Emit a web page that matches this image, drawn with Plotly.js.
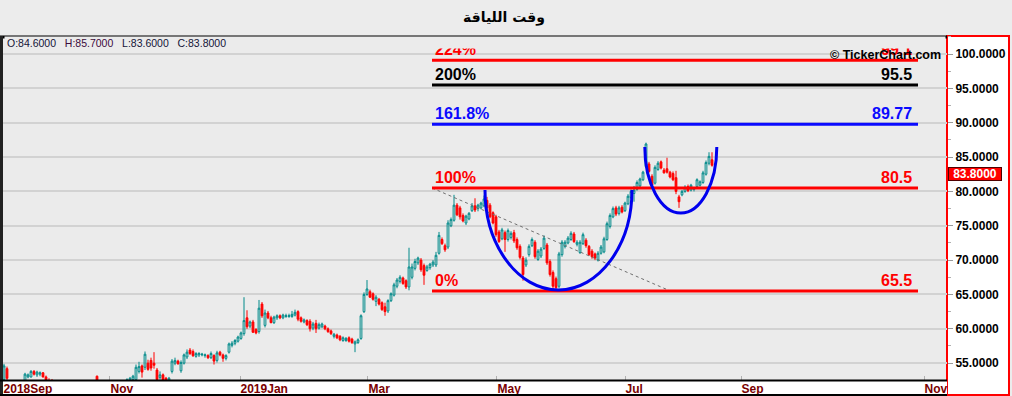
<!DOCTYPE html>
<html><head><meta charset="utf-8">
<script src="https://cdn.plot.ly/plotly-3.0.1.min.js"></script>
<style>html,body{margin:0;padding:0;background:#ececec;} #chart{width:1012px;height:396px;}</style>
</head><body><div id="chart"></div>
<script>
// ---- data (daily bars) ----
const openP = [52.6,54.2,52.3,51.8,52.0,51.7,52.1,52.3,53.0,53.0,53.8,53.3,53.4,53.6,53.0,52.5,52.3,52.0,51.7,51.4,
51.8,51.5,51.0,51.2,50.9,51.1,51.4,51.7,51.5,51.8,52.1,53.1,52.3,51.7,51.2,51.4,51.2,50.8,51.1,51.5,
51.8,52.1,52.5,52.6,52.6,53.8,54.6,54.4,55.0,55.4,55.0,54.0,52.9,53.3,52.8,52.5,53.8,55.0,55.3,53.9,
55.0,55.9,56.9,56.7,56.0,56.2,56.2,56.1,56.1,55.8,56.1,55.4,56.6,56.2,55.7,56.6,57.6,57.9,58.2,58.6,
59.3,61.6,60.4,61.0,59.9,59.6,63.6,60.5,62.3,61.6,60.9,61.6,61.9,61.6,61.8,61.8,61.8,62.0,62.5,61.6,
61.0,61.2,61.1,60.1,60.8,60.1,60.3,60.4,60.0,59.7,58.9,59.1,58.9,58.3,58.3,58.7,58.5,57.8,58.0,58.6,
62.5,65.0,65.4,65.1,64.0,64.3,63.8,63.2,62.6,64.1,64.9,66.2,66.9,67.4,67.0,66.1,67.5,68.8,69.6,70.0,
69.2,68.5,68.9,69.3,69.3,71.0,73.0,72.1,71.9,75.0,75.8,78.0,77.6,76.5,75.4,76.0,77.2,77.9,77.5,77.6,
77.9,78.7,78.0,76.9,76.3,74.1,73.1,74.0,73.0,73.3,74.0,73.0,72.0,70.3,69.3,70.8,72.1,72.6,70.1,70.6,
71.7,72.2,69.8,68.2,67.3,66.2,70.8,72.0,72.5,73.0,73.8,72.3,71.1,72.4,72.9,72.0,71.3,70.9,70.0,71.0,
71.2,73.0,74.9,76.3,77.6,76.8,77.7,77.2,78.2,79.1,79.7,80.3,80.8,81.7,83.6,84.0,82.2,81.2,83.2,84.3,
83.1,83.3,82.8,82.6,82.0,79.2,79.5,80.0,80.7,80.2,80.3,80.7,80.9,81.3,82.5,84.1,84.6];
const highP = [54.9,54.5,52.4,52.2,52.3,52.2,52.4,53.6,53.5,54.0,54.0,53.9,53.8,53.7,53.2,52.8,52.7,52.3,52.0,51.9,
52.1,51.7,51.4,51.5,51.3,51.6,51.9,52.1,52.0,52.3,52.4,53.2,52.4,52.0,51.6,51.8,51.5,51.3,51.7,52.0,
52.3,52.8,53.0,53.3,54.8,55.2,54.8,56.7,55.5,55.8,56.6,54.3,53.8,53.5,53.0,53.0,55.6,55.8,55.5,55.4,
56.4,57.0,57.2,57.0,56.6,56.6,56.5,56.4,56.3,56.7,56.3,56.8,56.8,56.4,56.3,58.0,58.2,58.5,59.0,59.6,
64.6,62.7,61.2,61.3,60.1,64.2,63.9,62.8,62.6,61.9,61.9,62.1,62.1,62.2,62.2,62.2,62.6,62.8,62.7,61.8,
61.5,61.4,61.4,61.0,61.3,60.9,60.9,60.6,60.2,59.9,59.4,59.3,59.1,58.9,58.8,58.9,58.7,58.3,58.6,62.1,
65.3,67.1,65.7,65.3,64.9,64.5,64.0,63.8,64.3,65.3,66.7,67.4,67.8,67.6,67.2,71.8,69.5,70.2,70.5,70.3,
69.5,69.3,69.6,70.0,71.2,74.1,73.3,72.4,75.8,76.2,79.5,78.3,77.9,76.8,76.6,77.0,78.3,79.0,78.2,78.5,
79.4,79.2,78.3,77.1,76.6,74.4,74.7,74.3,74.6,74.2,74.4,73.3,72.3,70.6,70.4,72.3,73.3,72.9,71.6,71.9,
73.6,72.5,70.1,68.5,67.6,71.2,72.9,72.9,73.5,74.2,74.1,72.9,72.9,74.0,73.2,72.2,71.6,71.1,71.3,72.2,
73.4,75.6,76.8,77.8,77.9,77.9,78.0,78.5,79.6,80.3,80.8,81.6,82.0,83.0,87.1,84.3,82.5,83.8,84.4,84.5,
83.4,84.9,83.0,82.9,83.0,79.5,80.2,80.9,81.0,81.1,80.6,81.9,81.6,83.0,84.5,85.7,85.7];
const lowP = [52.3,52.4,51.6,51.5,51.6,51.4,51.8,52.1,52.8,52.9,53.2,53.0,53.1,52.9,52.2,51.9,51.8,51.5,51.2,51.0,
51.3,50.8,50.6,50.7,50.5,50.9,51.1,51.3,51.2,51.5,51.7,52.1,51.5,51.0,50.8,51.0,50.6,50.5,50.9,51.2,
51.6,51.9,52.3,52.4,52.4,53.5,52.9,54.0,53.9,53.9,54.2,52.4,52.6,52.2,52.1,52.2,53.5,54.7,54.8,53.6,
54.8,55.6,56.2,55.9,55.8,55.9,56.0,55.8,55.6,55.6,54.8,55.1,56.0,55.2,55.4,56.4,57.3,57.6,58.0,58.4,
59.0,60.0,60.1,59.4,59.2,59.3,61.6,60.2,61.4,60.8,60.7,61.3,61.4,61.4,61.6,61.6,61.6,61.8,61.1,60.9,
60.8,60.4,59.6,59.8,59.4,59.9,60.1,59.8,59.4,59.1,58.6,58.5,58.2,58.1,58.1,58.0,57.8,56.6,57.8,58.4,
62.3,64.8,64.5,64.1,63.3,63.4,62.6,61.9,62.3,63.9,64.7,65.9,66.6,66.4,65.8,65.6,67.2,68.5,69.3,68.3,
66.4,68.3,68.6,69.0,69.0,70.8,72.2,71.2,71.6,74.8,75.6,76.4,75.9,75.5,75.1,75.8,77.0,77.0,77.1,77.4,
77.7,77.2,76.1,75.2,73.4,72.5,72.9,71.2,72.7,73.0,72.5,71.5,70.1,67.0,69.0,70.5,71.9,70.2,69.9,70.3,
71.5,69.3,67.6,65.8,65.6,65.9,70.5,71.7,72.3,72.8,72.5,72.0,70.9,72.2,71.8,70.6,70.2,70.0,69.8,70.8,
71.0,72.8,74.6,76.1,76.4,76.5,76.8,77.0,78.0,78.9,78.5,80.1,80.6,81.5,83.4,82.7,80.7,81.0,83.0,83.2,
82.6,82.6,81.9,81.5,79.6,77.6,79.3,79.8,79.9,80.0,80.0,80.5,80.7,81.1,82.3,83.8,83.6];
const closeP = [54.6,52.8,51.8,52.0,51.7,52.1,52.3,53.4,53.3,53.8,53.4,53.7,53.6,53.0,52.5,52.2,52.0,51.7,51.4,51.8,
51.5,51.0,51.2,50.9,51.1,51.4,51.7,51.5,51.8,52.1,51.9,52.3,51.7,51.2,51.4,51.2,50.8,51.1,51.5,51.8,
52.1,52.6,52.8,53.1,54.4,54.5,53.7,56.3,54.1,54.3,54.7,52.6,53.3,52.5,52.3,52.8,55.3,55.4,54.9,55.1,
56.2,56.6,56.4,56.1,56.4,56.4,56.3,56.2,55.8,56.4,55.3,56.5,56.2,55.7,56.1,57.8,57.9,58.3,58.8,59.4,
61.2,60.3,61.0,59.5,59.4,63.0,61.9,62.3,61.6,60.9,61.7,61.9,61.6,62.0,61.9,61.9,62.1,62.4,61.4,61.1,
61.3,60.6,60.0,60.7,60.0,60.6,60.7,60.0,59.6,59.3,59.2,58.7,58.4,58.7,58.6,58.2,58.0,58.1,58.4,61.9,
65.0,65.8,64.6,64.3,64.6,63.6,62.8,62.5,64.1,65.1,66.4,67.1,67.5,66.6,66.1,69.0,69.0,69.8,70.3,68.6,
67.8,69.0,69.4,69.7,70.7,73.6,72.4,71.5,75.4,75.9,78.0,76.6,76.3,75.7,76.4,76.8,77.9,77.3,78.0,78.3,
78.9,77.6,76.3,75.4,73.7,72.7,74.4,73.0,74.3,73.9,72.8,71.8,70.4,67.9,70.0,72.0,73.0,70.5,71.3,71.6,
73.2,69.6,67.9,66.2,66.0,70.9,72.6,72.6,73.2,73.9,72.7,72.6,72.6,73.7,72.1,70.8,70.5,70.3,71.0,71.9,
73.1,75.3,76.5,77.5,76.7,77.6,77.0,78.3,79.3,80.0,80.2,81.3,81.8,82.8,86.9,82.9,80.9,83.5,84.1,83.4,
82.7,82.8,82.1,81.7,80.0,78.5,80.0,80.6,80.1,80.9,80.5,81.7,81.4,82.7,84.2,85.1,83.8];

const tickPos  = [-0.3, 35.33, 78.67, 121.33, 164.33, 207, 245.67, 306.67];
const tickText = ['2018Sep','Nov','2019Jan','Mar','May','Jul','Sep','Nov'];

const fibLevels = [65.5, 80.5, 89.77, 95.5, 99.1];
const fibPct    = ['0%','100%','161.8%','200%','224%'];
const fibValTxt = ['65.5','80.5','89.77','95.5','99.1'];
const fibColors = ['#ff0000','#ff0000','#0a0aff','#000000','#ff0000'];

const lastBar = {o:'84.6000', h:'85.7000', l:'83.6000', c:'83.8000', price:83.8};
const titleText = 'وقت اللياقة';

// ---- geometry helpers (layout only) ----
const PLOT_L = 3, PLOT_R = 947, PLOT_T = 36, PLOT_B = 380, W = 1012, H = 396;
const pw = PLOT_R - PLOT_L, ph = PLOT_B - PLOT_T;
const px2paperX = p => (p - PLOT_L) / pw;
const px2paperY = p => (PLOT_B - p) / ph;

const barIndex = closeP.map((_, i) => i);

const trace = {
  type: 'candlestick',
  x: barIndex, open: openP, high: highP, low: lowP, close: closeP,
  increasing: {line: {color: '#008a8a', width: 1}, fillcolor: 'rgba(0,0,0,0)'},
  decreasing: {line: {color: '#ff0000', width: 1}, fillcolor: '#ff0000'},
  whiskerwidth: 0, hoverinfo: 'skip', showlegend: false
};

const fibX0 = 142.67, fibX1 = 304.67;
const shapes = [
  {type:'rect', xref:'paper', yref:'paper', x0:1, x1:px2paperX(1009), y0:px2paperY(395), y1:1,
   fillcolor:'#ffffff', line:{color:'#ff0000', width:2}, layer:'below'},
  {type:'rect', xref:'paper', yref:'paper', x0:px2paperX(0), x1:1, y0:px2paperY(396), y1:0,
   fillcolor:'#ffffff', line:{width:0}, layer:'below'},
  {type:'line', xref:'paper', yref:'paper', x0:px2paperX(0), x1:1, y0:px2paperY(37), y1:px2paperY(37), line:{color:'#000', width:3}, layer:'above'},
  {type:'line', xref:'paper', yref:'paper', x0:px2paperX(1.5), x1:px2paperX(1.5), y0:px2paperY(396), y1:px2paperY(36), line:{color:'#222', width:3}, layer:'above'},
  {type:'line', xref:'paper', yref:'paper', x0:px2paperX(0), x1:1, y0:px2paperY(380.5), y1:px2paperY(380.5), line:{color:'#000', width:2}, layer:'above'},
  {type:'line', xref:'paper', yref:'paper', x0:px2paperX(0), x1:1, y0:px2paperY(395), y1:px2paperY(395), line:{color:'#000', width:2}, layer:'above'},
  {type:'line', xref:'x', yref:'y', x0:142.67, y0:80.5, x1:222.67, y1:65.4, line:{color:'#707070', width:1, dash:'dot'}, layer:'above'}
];
fibLevels.forEach((v, k) => shapes.push({type:'line', xref:'x', yref:'y', x0:fibX0, x1:fibX1, y0:v, y1:v,
  line:{color:fibColors[k], width:3}, layer:'above'}));

function halfEllipse(cx, cy, rx, ry) {
  const k = 0.5523;
  return `M ${cx-rx},${cy} C ${cx-rx},${cy-k*ry} ${cx-k*rx},${cy-ry} ${cx},${cy-ry} C ${cx+k*rx},${cy-ry} ${cx+rx},${cy-k*ry} ${cx+rx},${cy}`;
}
shapes.push({type:'path', xref:'x', yref:'y', path: halfEllipse(184.83, 80.2, 24.5, 14.55), line:{color:'#0000ee', width:3}, layer:'above'});
shapes.push({type:'path', xref:'x', yref:'y', path: halfEllipse(225.6, 86.46, 12.0, 9.6), line:{color:'#0000ee', width:3}, layer:'above'});

const annotations = [];
fibLevels.forEach((v, k) => {
  annotations.push({xref:'x', yref:'y', x:143, y:v, xanchor:'left', yanchor:'bottom', yshift:0, showarrow:false,
    text:'<b>'+fibPct[k]+'</b>', font:{family:'Liberation Sans, Arial', size:16, color:fibColors[k]}});
  annotations.push({xref:'x', yref:'y', x:303.4, y:v, xanchor:'right', yanchor:'bottom', yshift:0, showarrow:false,
    text:'<b>'+fibValTxt[k]+'</b>', font:{family:'Liberation Sans, Arial', size:16, color:fibColors[k]}});
});
annotations.push({xref:'paper', yref:'paper', x:px2paperX(4), y:1, xanchor:'left', yanchor:'top', showarrow:false,
  text:' ', width:940, height:11, borderpad:0, bgcolor:'#ebebeb'});
const sp = '\u00a0\u00a0\u00a0';
annotations.push({xref:'paper', yref:'paper', x:px2paperX(5), y:px2paperY(43), xanchor:'left', yanchor:'middle', showarrow:false,
  text:'<span style="color:#141438">O:'+lastBar.o+'</span>'+sp+'<span style="color:#3c0a3c">H:'+lastBar.h+'</span>'+sp+
       '<span style="color:#141438">L:'+lastBar.l+'</span>'+sp+'<span style="color:#141438">C:'+lastBar.c+'</span>',
  font:{family:'Liberation Sans, Arial', size:10.5, color:'#141438'}});
annotations.push({xref:'paper', yref:'paper', x:px2paperX(943), y:px2paperY(55), xanchor:'right', yanchor:'middle', showarrow:false,
  text:'<b>© TickerChart.com</b>', font:{family:'Liberation Sans, Arial', size:12.5, color:'#000'}});
annotations.push({xref:'paper', yref:'y', x:px2paperX(948), y:lastBar.price, xanchor:'left', yanchor:'top', yshift:-1.5, showarrow:false,
  text:'<b>'+lastBar.c+'</b>', width:50, height:10, borderpad:1, borderwidth:1, bordercolor:'#500000', bgcolor:'#ff0000',
  font:{family:'Liberation Sans, Arial', size:12, color:'#ffffff'}});

const layout = {
  width: W, height: H,
  margin: {l: PLOT_L, r: W - PLOT_R, t: PLOT_T, b: H - PLOT_B, pad: 0},
  paper_bgcolor: '#ececec', plot_bgcolor: '#ebebeb',
  boxgap: 0.15,
  title: {text: '<b>'+titleText+'</b>', x: 0.498, xref: 'container', y: 1 - 17/396, yref: 'container', yanchor: 'middle', xanchor: 'center',
          font: {family: 'DejaVu Sans', size: 14, color: '#000'}},
  showlegend: false,
  xaxis: {type: 'linear', range: [-0.333, 314.333], fixedrange: true, rangeslider: {visible: false},
          showgrid: false, zeroline: false, showline: false,
          tickmode: 'array', tickvals: tickPos, ticktext: tickText,
          ticks: 'inside', ticklen: 4, tickcolor: '#b0b0b0', tickwidth: 1,
          ticklabelposition: 'outside right',
          tickfont: {family: 'Liberation Sans, Arial', size: 12, color: '#7a0000', weight: 'bold'}},
  yaxis: {side: 'right', range: [52.55, 102.62], fixedrange: true, tick0: 0, dtick: 5, tickformat: '.4f',
          showgrid: true, gridcolor: '#d2d2d2', gridwidth: 2, zeroline: false, showline: false,
          ticks: 'outside', ticklen: 5, tickcolor: '#9a9a9a', tickwidth: 1, ticklabelstandoff: 0,
          minor: {dtick: 2.5, ticks: 'outside', ticklen: 3, tickcolor: '#b0b0b0', showgrid: false},
          tickfont: {family: 'Liberation Sans, Arial', size: 12, color: '#000', weight: 'bold'}},
  shapes: shapes, annotations: annotations
};

Plotly.newPlot('chart', [trace], layout, {displayModeBar: false, staticPlot: true});
</script></body></html>
